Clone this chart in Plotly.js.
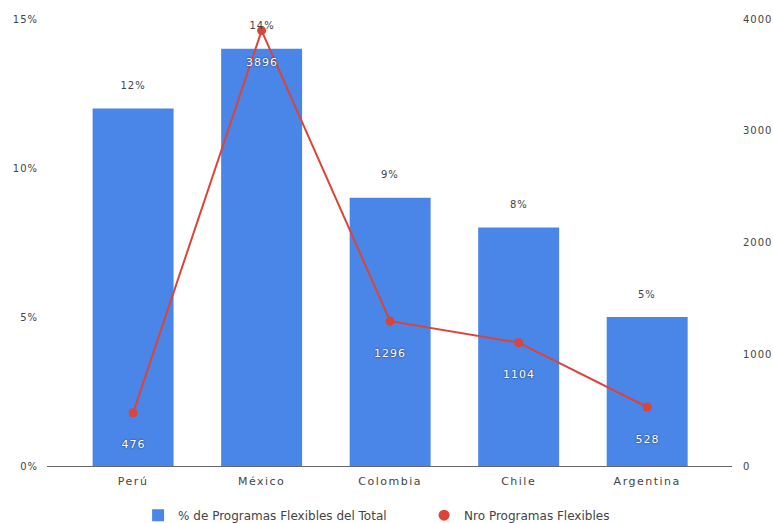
<!DOCTYPE html>
<html>
<head>
<meta charset="utf-8">
<script src="https://cdn.plot.ly/plotly-3.0.1.min.js"></script>
<style>
html,body{margin:0;padding:0;background:#fff}
#chart{width:773px;height:523px}
#chart .xtick text, #chart .ytick text, #chart .y2tick text, #chart .annotation-text{letter-spacing:1px}
#chart .xtick text{letter-spacing:1.5px}
</style>
</head>
<body>
<div id="chart"></div>
<script>
const categories = ["Perú", "México", "Colombia", "Chile", "Argentina"];
const pctFlexibles = [12, 14, 9, 8, 5];
const nroFlexibles = [476, 3896, 1296, 1104, 528];
const pctLabels = ["12%", "14%", "9%", "8%", "5%"];
const leftTicks = [0, 5, 10, 15];
const leftTickText = ["0%", "5%", "10%", "15%"];
const rightTicks = [0, 1000, 2000, 3000, 4000];

const BLUE = "#4a86e8";
const RED = "#db4437";
const FONT = "'DejaVu Sans', Arial, sans-serif";

const traces = [
  {
    type: "bar", x: categories, y: pctFlexibles, name: "% de Programas Flexibles del Total",
    marker: {color: BLUE}, width: 0.63, yaxis: "y", hoverinfo: "skip"
  },
  {
    type: "scatter", mode: "lines+markers", x: categories, y: nroFlexibles, yaxis: "y2",
    line: {color: RED, width: 2}, marker: {color: RED, size: 9},
    showlegend: false, hoverinfo: "skip"
  },
  {
    type: "scatter", mode: "markers", x: [null], y: [null], yaxis: "y2",
    name: "Nro Programas Flexibles", marker: {color: RED, size: 11}
  }
];

const annotations = [];
categories.forEach((c, i) => {
  annotations.push({
    x: c, y: pctFlexibles[i], xref: "x", yref: "y", text: pctLabels[i],
    showarrow: false, yshift: 23, yanchor: "middle",
    font: {family: FONT, size: 10, color: "#444"}
  });
  annotations.push({
    x: c, y: nroFlexibles[i], xref: "x", yref: "y2", text: String(nroFlexibles[i]),
    showarrow: false, yshift: -32, yanchor: "middle",
    font: {family: FONT, size: 11, color: "#ffffff", shadow: "0 0 2px #222"}
  });
});

const layout = {
  width: 773, height: 523,
  margin: {l: 47, r: 41, t: 19, b: 57, autoexpand: false},
  paper_bgcolor: "#fff", plot_bgcolor: "#fff",
  font: {family: FONT, size: 10, color: "#444"},
  showlegend: true,
  legend: {orientation: "h", x: 0.133, xanchor: "left", y: -0.11, yanchor: "middle",
           entrywidth: 241,
           font: {family: FONT, size: 12, color: "#444"}, traceorder: "normal"},
  xaxis: {
    range: [-0.67, 4.66], showgrid: false, zeroline: false,
    showline: true, linecolor: "#666", linewidth: 1,
    ticks: "", ticklabelstandoff: 5,
    tickfont: {family: FONT, size: 11, color: "#444"}, fixedrange: true
  },
  yaxis: {
    range: [0, 15], tickvals: leftTicks, ticktext: leftTickText, showgrid: false, zeroline: false,
    showline: false, ticks: "", ticklabelstandoff: 8,
    tickfont: {family: FONT, size: 10, color: "#444"}
  },
  yaxis2: {
    range: [0, 4000], tickvals: rightTicks, overlaying: "y", side: "right",
    showgrid: false, zeroline: false, showline: false, ticks: "", ticklabelstandoff: 10,
    tickfont: {family: FONT, size: 10, color: "#444"}
  },
  annotations: annotations
};

Plotly.newPlot("chart", traces, layout, {displayModeBar: false, staticPlot: true});
</script>
</body>
</html>
